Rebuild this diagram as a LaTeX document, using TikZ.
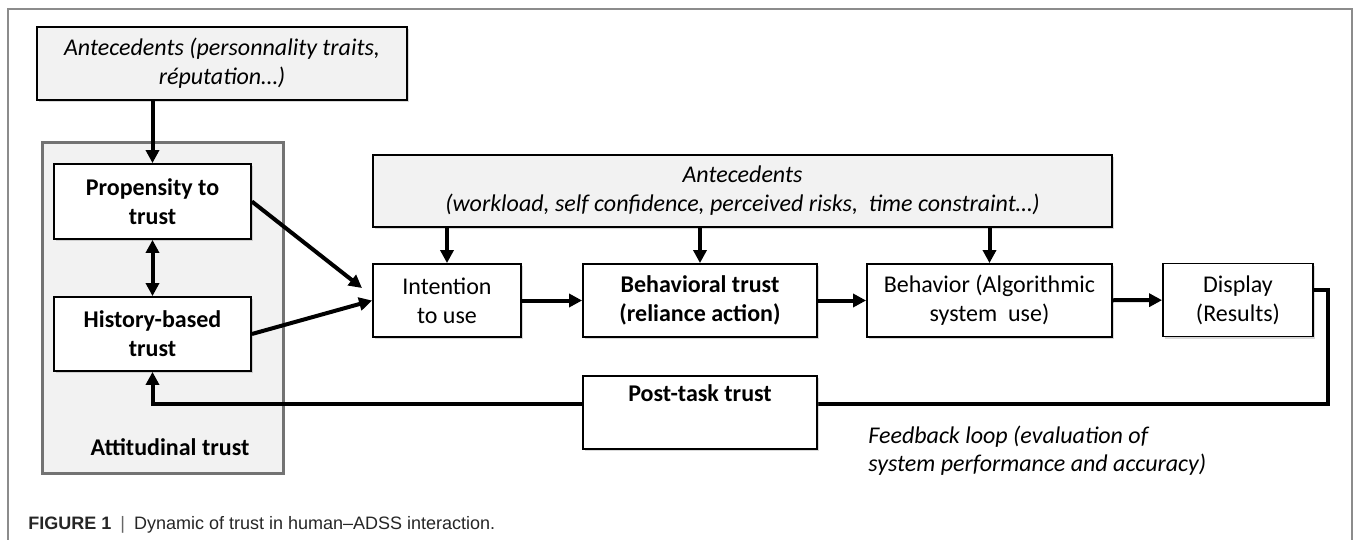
\documentclass[tikz,border=0pt]{standalone}
\usepackage{fontspec}
\setmainfont{Carlito}
\newfontfamily\capfont{Liberation Sans}
\usetikzlibrary{arrows.meta,shadows}

\tikzset{
  box/.style={draw,line width=.9pt,fill=white,align=center,inner sep=0pt,
    drop shadow={shadow xshift=1pt,shadow yshift=-1pt,opacity=.3}},
  antebox/.style={box,fill=black!5,font=\itshape},
  arr/.style={line width=2pt,->},
}

\begin{document}
\fontsize{12}{14.6}\selectfont
\begin{tikzpicture}[x=.5pt,y=-.5pt,>={Triangle[length=6.5pt,width=6.5pt]}]

	\useasboundingbox (0,0) rectangle (1356,540);
	\draw[black!45,line width=.6pt] (8,540) |- (1352,9) -- (1352,540);

	%\draw[step=50,gray,very thin] (0,0) grid (1356,540);

	\draw[draw=black!55,line width=1.5pt,fill=black!5,
	  drop shadow={shadow xshift=1pt,shadow yshift=-1pt,opacity=.3}] (42,143) rectangle (283,473);

	\node (ante1) at (222,63.5) [antebox,minimum width=185pt,minimum height=36.5pt] {Antecedents (personnality traits,\\ réputation…)};

	\node (prop) at (152.5,201.5) [box,font=\bfseries,minimum width=98.5pt,minimum height=37.5pt] {Propensity to\\ trust};
	\node (hist) at (152.5,334) [box,font=\bfseries,minimum width=98.5pt,minimum height=37pt] {History-based\\ trust};
	\node (attlab) at (170,447) [font=\bfseries] {Attitudinal trust};

	\node (ante2) at (742.5,191) [antebox,minimum width=369.5pt,minimum height=36pt] {Antecedents\\ (workload, self confidence, perceived risks,\ \ time constraint…)};

	\node (inten) at (447,300.5) [box,minimum width=74pt,minimum height=36.5pt] {Intention\\ to use};
	\node (btrust) at (700,300.5) [box,font=\bfseries,minimum width=117pt,minimum height=36.5pt] {Behavioral trust\\ (reliance action)};
	\node (behav) at (989.5,300.5) [box,minimum width=122.5pt,minimum height=36.5pt] {Behavior (Algorithmic\\ system\ \ use)};
	\node (disp) at (1238,300) [box,minimum width=75pt,minimum height=36.5pt] {Display\\ (Results)};

	\draw[arr] (ante1.south -| prop.north) -- (prop.north);
	\draw[arr,<->] (prop) -- (hist);

	\coordinate (intin) at (362,288);
	\draw[arr] (prop.east) -- (intin);
	\draw[arr] (hist.east) -- (inten.west);

	\draw[arr] (ante2.south -| inten.north) -- (inten.north);
	\draw[arr] (ante2.south -| btrust.north) -- (btrust.north);
	\draw[arr] (ante2.south -| behav.north) -- (behav.north);

	\draw[arr] (inten) -- (btrust);
	\draw[arr] (btrust) -- (behav);
	\draw[arr] (behav) -- (disp);

	\coordinate (fbturn) at (1328,404);
	\draw[arr] ([yshift=5pt]disp.east) -| (fbturn) -| (hist.south);

	\node (post) at (700,412.5) [box,font=\bfseries,minimum width=117pt,minimum height=36.5pt] {Post-task trust\\ \strut};

	\node (fbtext) at (860,451) [anchor=west,align=left,font=\fontsize{12}{14}\selectfont\itshape] {Feedback loop (evaluation of\\ system performance and accuracy)};

	\node (cap) at (20,525) [anchor=west,text=black!85,font=\capfont\fontsize{9}{11}\selectfont] {\textbf{FIGURE 1}\enspace{\color{black!60}|}\enspace Dynamic of trust in human–ADSS interaction.};

\end{tikzpicture}
\end{document}
